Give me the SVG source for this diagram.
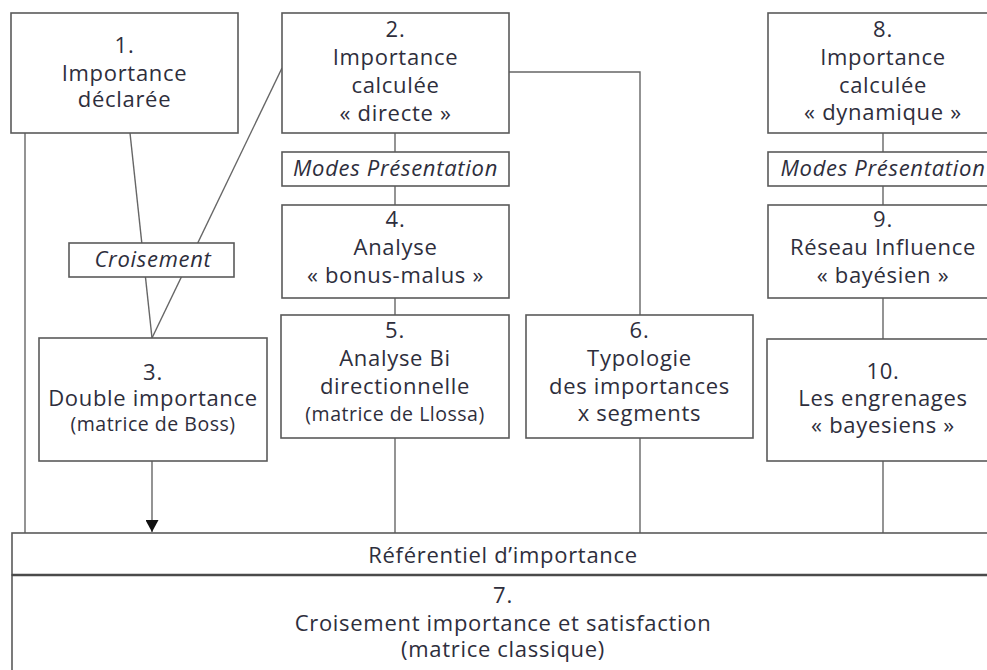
<svg xmlns="http://www.w3.org/2000/svg" width="987" height="670" viewBox="0 0 987 670">
  <style>
    .box { fill: #ffffff; stroke: #5a5a5a; stroke-width: 1.6; }
    .wire { fill: none; stroke: #666666; stroke-width: 1.4; }
    .sep { fill: none; stroke: #4a4a4a; stroke-width: 2.6; }
    text { font-family: "Open Sans", "Noto Sans", "DejaVu Sans", sans-serif; font-size: 22px; letter-spacing: 0.7px; fill: #2e2e3c; text-anchor: middle; }
    .it { font-style: italic; }
    .sm { font-size: 19.5px; letter-spacing: 0.5px; }
  </style>
  <defs>
    <!-- filled arrowhead, tip at the end of the line -->
    <marker id="arrow" markerWidth="13" markerHeight="13" refX="12" refY="6.5" orient="auto" markerUnits="userSpaceOnUse" viewBox="0 0 13 13">
      <path d="M0,0 L12,6.5 L0,13 Z" fill="#111111"/>
    </marker>
  </defs>
  <rect width="987" height="670" fill="#ffffff"/>

  <!-- connectors -->
  <g id="connectors">
    <line class="wire" x1="25" y1="133" x2="25" y2="533"/>
    <line class="wire" x1="130" y1="133" x2="152" y2="338"/>
    <line class="wire" x1="282" y1="68" x2="152" y2="338"/>
    <line class="wire" x1="152" y1="461" x2="152" y2="532" marker-end="url(#arrow)"/>
    <polyline class="wire" points="509,72 640,72 640,315"/>
    <line class="wire" x1="395" y1="133" x2="395" y2="152"/>
    <line class="wire" x1="395" y1="186" x2="395" y2="205"/>
    <line class="wire" x1="395" y1="298" x2="395" y2="315"/>
    <line class="wire" x1="395" y1="438" x2="395" y2="533"/>
    <line class="wire" x1="640" y1="438" x2="640" y2="533"/>
    <line class="wire" x1="883" y1="133" x2="883" y2="152"/>
    <line class="wire" x1="883" y1="186" x2="883" y2="205"/>
    <line class="wire" x1="883" y1="298" x2="883" y2="339"/>
    <line class="wire" x1="883" y1="461" x2="883" y2="533"/>
  </g>

  <g id="n1">
    <rect class="box" x="11" y="13" width="227" height="120"/>
    <text x="124.5" y="53">1.</text>
    <text x="124.5" y="81">Importance</text>
    <text x="124.5" y="107">déclarée</text>
  </g>

  <g id="n2">
    <rect class="box" x="282" y="13" width="227" height="120"/>
    <text x="395.5" y="37">2.</text>
    <text x="395.5" y="65">Importance</text>
    <text x="395.5" y="93">calculée</text>
    <text x="395.5" y="121">« directe »</text>
  </g>

  <g id="modes-2">
    <rect class="box" x="282" y="152" width="227" height="34"/>
    <text class="it" x="395.5" y="176">Modes Présentation</text>
  </g>

  <g id="n4">
    <rect class="box" x="282" y="205" width="227" height="93"/>
    <text x="395.5" y="227">4.</text>
    <text x="395.5" y="255">Analyse</text>
    <text x="395.5" y="283">« bonus-malus »</text>
  </g>

  <g id="n5">
    <rect class="box" x="281" y="315" width="228" height="123"/>
    <text x="395" y="338">5.</text>
    <text x="395" y="366">Analyse Bi</text>
    <text x="395" y="394">directionnelle</text>
    <text class="sm" x="395" y="421">(matrice de Llossa)</text>
  </g>

  <g id="n6">
    <rect class="box" x="526" y="315" width="227" height="123"/>
    <text x="639.5" y="338">6.</text>
    <text x="639.5" y="366">Typologie</text>
    <text x="639.5" y="394">des importances</text>
    <text x="639.5" y="421">x segments</text>
  </g>

  <g id="croisement">
    <rect class="box" x="69" y="243" width="165" height="34"/>
    <text class="it" x="153" y="267">Croisement</text>
  </g>

  <g id="n3">
    <rect class="box" x="39" y="338" width="228" height="123"/>
    <text x="153" y="380">3.</text>
    <text x="153" y="406">Double importance</text>
    <text class="sm" x="153" y="431">(matrice de Boss)</text>
  </g>

  <g id="n8">
    <rect class="box" x="768" y="13" width="230" height="120"/>
    <text x="883" y="37">8.</text>
    <text x="883" y="65">Importance</text>
    <text x="883" y="93">calculée</text>
    <text x="883" y="120">« dynamique »</text>
  </g>

  <g id="modes-8">
    <rect class="box" x="768" y="152" width="230" height="34"/>
    <text class="it" x="883" y="176">Modes Présentation</text>
  </g>

  <g id="n9">
    <rect class="box" x="768" y="205" width="230" height="93"/>
    <text x="883" y="227">9.</text>
    <text x="883" y="255">Réseau Influence</text>
    <text x="883" y="283">« bayésien »</text>
  </g>

  <g id="n10">
    <rect class="box" x="767" y="339" width="231" height="122"/>
    <text x="883" y="379">10.</text>
    <text x="883" y="406">Les engrenages</text>
    <text x="883" y="433">« bayesiens »</text>
  </g>

  <g id="referentiel">
    <rect class="box" x="12" y="533" width="990" height="42"/>
    <text x="503" y="563">Référentiel d’importance</text>
  </g>

  <g id="n7">
    <rect class="box" x="12" y="575" width="990" height="110"/>
    <line class="sep" x1="12" y1="575" x2="1002" y2="575"/>
    <text x="503" y="603">7.</text>
    <text x="503" y="631">Croisement importance et satisfaction</text>
    <text x="503" y="657">(matrice classique)</text>
  </g>
</svg>
